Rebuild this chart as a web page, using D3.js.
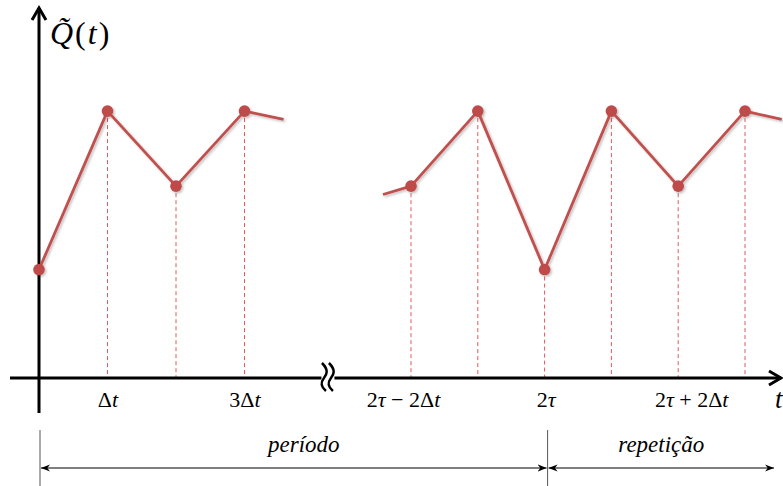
<!DOCTYPE html>
<html>
<head>
<meta charset="utf-8">
<script src="https://cdn.jsdelivr.net/npm/d3@7"></script>
<style>
  html, body { margin: 0; padding: 0; background: #fff; }
  svg { display: block; }
  text { font-family: "Liberation Serif", "Tinos", "Times New Roman", "DejaVu Serif", serif; }
</style>
</head>
<body>
<svg id="chart" width="783" height="486"></svg>
<script>
// ---- data (t in units of Δt; 2τ placed at 10 on the right-hand segment) ----
const leftT   = [0, 1, 2, 3, 3.57];
const leftQ   = [1.3, 3.2, 2.3, 3.2, 3.1];
const rightT  = [7.58, 8, 9, 10, 11, 12, 13, 13.55];
const rightQ  = [2.2, 2.3, 3.2, 1.3, 3.2, 2.3, 3.2, 3.1];
// which points are real samples (with dot + dashed drop line)
const leftSample  = [true, true, true, true, false];
const rightSample = [false, true, true, true, true, true, true, false];
const tickValues  = [1, 3, 8, 10, 12];
const tickLabels  = [
  [["Δ", false], ["t", true]],
  [["3Δ", false], ["t", true]],
  [["2", false], ["τ", true], [" − 2Δ", false], ["t", true]],
  [["2", false], ["τ", true]],
  [["2", false], ["τ", true], [" + 2Δ", false], ["t", true]]
];
const tickNudge = [0, 0, -8, 1, 13];
const periodStart = 0, periodEnd = 10, repEnd = 13.45;
const spanLabels = ["período", "repetição"];

// ---- layout ----
const svg = d3.select("#chart");
const red = "#c0504d";
const dashRed = "#e2595a";

const x = d3.scaleLinear()
  .domain([0, 4.2, 7, 14])
  .range([39, 39 + 4.2 * 68.5, 411 - 66.8, 411 + 6 * 66.8]);
const y = d3.scaleLinear().domain([0, 4.4]).range([378, 11]);
const y0 = y(0);

const defs = svg.append("defs");
const f = defs.append("filter").attr("id", "sh").attr("x", "-10%").attr("y", "-10%")
  .attr("width", "130%").attr("height", "130%");
f.append("feDropShadow").attr("dx", 1.5).attr("dy", 1.5).attr("stdDeviation", 1.2)
  .attr("flood-color", "#000").attr("flood-opacity", 0.25);

function arrowMarker(id, orient) {
  defs.append("marker").attr("id", id)
    .attr("viewBox", "0 0 10 10").attr("refX", 10).attr("refY", 5)
    .attr("markerWidth", 9).attr("markerHeight", 9).attr("markerUnits", "userSpaceOnUse")
    .attr("orient", orient)
    .append("path").attr("d", "M0,1 L10,5 L0,9 L3,5 Z").attr("fill", "#000");
}
arrowMarker("arr", "auto-start-reverse");

// ---- dashed drop lines ----
const series = [
  { t: leftT, q: leftQ, s: leftSample },
  { t: rightT, q: rightQ, s: rightSample }
];
const samples = [];
series.forEach(se => se.t.forEach((t, i) => { if (se.s[i]) samples.push({ t, q: se.q[i] }); }));

svg.append("g").selectAll("line").data(samples).join("line")
  .attr("x1", d => x(d.t)).attr("x2", d => x(d.t))
  .attr("y1", d => y(d.q)).attr("y2", y0)
  .attr("stroke", dashRed).attr("stroke-width", 1)
  .attr("stroke-dasharray", "4,3");

// ---- axes ----
const axisG = svg.append("g");
axisG.append("line").attr("x1", 10).attr("x2", 781).attr("y1", y0).attr("y2", y0)
  .attr("stroke", "#000").attr("stroke-width", 3);
axisG.append("path")
  .attr("d", `M${769},${y0 - 7} L${781},${y0} L${769},${y0 + 7}`)
  .attr("fill", "none").attr("stroke", "#000").attr("stroke-width", 3)
  .attr("stroke-linejoin", "miter");
axisG.append("line").attr("x1", x(0)).attr("x2", x(0)).attr("y1", 413).attr("y2", 8)
  .attr("stroke", "#000").attr("stroke-width", 3);
axisG.append("path")
  .attr("d", `M${x(0) - 7},${20} L${x(0)},${8} L${x(0) + 7},${20}`)
  .attr("fill", "none").attr("stroke", "#000").attr("stroke-width", 3);

// axis break
const bx = (x(4.2) + x(7)) / 2 - 8;
axisG.append("rect").attr("x", bx - 6).attr("y", y0 - 3).attr("width", 13).attr("height", 6)
  .attr("fill", "#fff");
[bx - 3.5, bx + 3.5].forEach(cx => {
  axisG.append("path")
    .attr("d", `M${cx - 2},${y0 - 15} C${cx + 5},${y0 - 8} ${cx + 3},${y0 - 4} ${cx},${y0} S${cx - 4},${y0 + 8} ${cx + 2},${y0 + 13}`)
    .attr("fill", "none").attr("stroke", "#000").attr("stroke-width", 2.5);
});

// tick labels through d3 axis
const xAxis = d3.axisBottom(x).tickValues(tickValues).tickSize(0).tickPadding(0).tickFormat("");
const ag = svg.append("g").attr("transform", `translate(0,${y0})`).call(xAxis);
ag.select(".domain").remove();
ag.selectAll(".tick").each(function (d, i) {
  const t = d3.select(this).append("text")
    .attr("y", 29).attr("x", tickNudge[i])
    .attr("text-anchor", "middle")
    .attr("fill", "#000")
    .style("font-family", "'Liberation Serif', 'DejaVu Serif', serif")
    .style("font-size", "22px");
  tickLabels[i].forEach(([s, it]) => {
    t.append("tspan").text(s).style("font-style", it ? "italic" : "normal");
  });
});
// axis title t
svg.append("text").attr("x", 775).attr("y", 408).text("t")
  .style("font-size", "27px").style("font-style", "italic");

// y axis title Q̃(t)
svg.append("text").attr("x", 50).attr("y", 44)
  .style("font-size", "32px")
  .call(t => {
    t.append("tspan").text("Q\u0303").style("font-style", "italic");
    t.append("tspan").text("(").attr("dx", 2);
    t.append("tspan").text("t").style("font-style", "italic").attr("dx", 2);
    t.append("tspan").text(")").attr("dx", 2);
  });

// ---- lines & dots ----
const line = d3.line().x(d => x(d[0])).y(d => y(d[1]));
const plotG = svg.append("g").attr("filter", "url(#sh)");
series.forEach(se => {
  const pts = se.t.map((t, i) => [t, se.q[i]]);
  plotG.append("path").datum(pts).attr("d", line)
    .attr("fill", "none").attr("stroke", red).attr("stroke-width", 2.8)
    .attr("stroke-linejoin", "round");
});
plotG.selectAll("circle").data(samples).join("circle")
  .attr("cx", d => x(d.t)).attr("cy", d => y(d.q)).attr("r", 5.8)
  .attr("fill", "#be4b48");

// ---- period / repetition spans ----
const spanY = 468;
const sg = svg.append("g");
[periodStart, periodEnd].forEach(v => {
  sg.append("line").attr("x1", x(v) + (v === periodEnd ? 3 : 1)).attr("x2", x(v) + (v === periodEnd ? 3 : 1))
    .attr("y1", 430).attr("y2", 486).attr("stroke", "#555").attr("stroke-width", 1);
});
const spans = [[periodStart, periodEnd], [periodEnd, repEnd]];
spans.forEach((s, i) => {
  const a = x(s[0]) + (i === 0 ? 1 : 3), b = x(s[1]) + (i === 0 ? 3 : 0);
  sg.append("line").attr("x1", a + 1).attr("x2", b - 1).attr("y1", spanY).attr("y2", spanY)
    .attr("stroke", "#000").attr("stroke-width", 1.2)
    .attr("marker-start", "url(#arr)").attr("marker-end", "url(#arr)");
  sg.append("text").attr("x", (a + b) / 2 + (i === 0 ? 10 : 0)).attr("y", 452)
    .attr("text-anchor", "middle").text(spanLabels[i])
    .style("font-size", "23px").style("font-style", "italic");
});
</script>
</body>
</html>
